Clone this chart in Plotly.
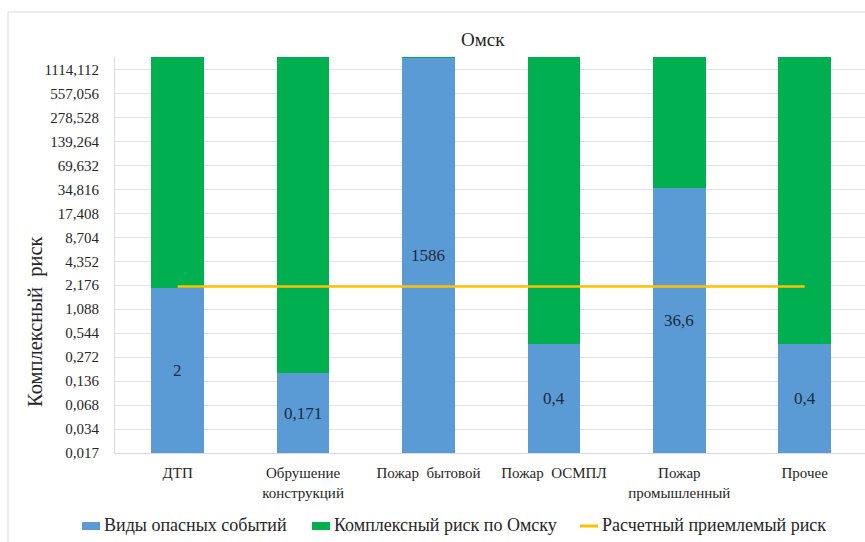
import math
import plotly.graph_objects as go

# Categories of hazardous events
categories = ["ДТП", "Обрушение<br>конструкций", "Пожар  бытовой",
              "Пожар  ОСМПЛ", "Пожар<br>промышленный", "Прочее"]
# Risk by event type
event_risk = [2, 0.171, 1586, 0.4, 36.6, 0.4]
# Total complex risk level for Omsk (stack top)
total_risk = 1600
complex_risk = [total_risk - v for v in event_risk]
# Calculated acceptable risk
acceptable_risk = [2.1] * len(categories)

# Log-scale ticks (base 2 steps)
tick_values = [0.017, 0.034, 0.068, 0.136, 0.272, 0.544, 1.088, 2.176, 4.352,
               8.704, 17.408, 34.816, 69.632, 139.264, 278.528, 557.056, 1114.112]
tick_labels = ["0,017", "0,034", "0,068", "0,136", "0,272", "0,544", "1,088",
               "2,176", "4,352", "8,704", "17,408", "34,816", "69,632",
               "139,264", "278,528", "557,056", "1114,112"]

legend_names = ["Виды опасных событий", "Комплексный риск по Омску",
                "Расчетный приемлемый риск"]

y_min = 0.017
FONT = "Liberation Serif"
BLUE = "#5B9BD5"
GREEN = "#00B050"
GOLD = "#FFC000"
TEXT = "#262626"

# plot-area geometry in pixels
L, R, T, B = 115, 865, 57, 453
PW, PH = R - L, B - T


def px_x(x):
    return (x - L) / PW


def px_y(y):
    return (B - y) / PH


fig = go.Figure()
fig.add_trace(go.Bar(x=categories, y=event_risk, name=legend_names[0],
                     marker=dict(color=BLUE, line=dict(width=0))))
fig.add_trace(go.Bar(x=categories, y=complex_risk, name=legend_names[1],
                     marker=dict(color=GREEN, line=dict(width=0))))
fig.add_trace(go.Scatter(x=categories, y=acceptable_risk, mode="lines",
                         name=legend_names[2],
                         line=dict(color=GOLD, width=2.5)))

# Value labels centred in the visible part of each blue bar
for cat, v in zip(categories, event_risk):
    top = min(v, total_risk)
    mid = math.sqrt(y_min * top)
    txt = ("%g" % v).replace(".", ",")
    fig.add_annotation(x=cat, y=math.log10(mid), text=txt, showarrow=False,
                       xanchor="center", yanchor="middle",
                       font=dict(family=FONT, size=17, color="#1b2a3e"))

# Axis title
fig.add_annotation(xref="paper", yref="paper", x=px_x(36), y=px_y(322),
                   xanchor="center", yanchor="middle",
                   text="Комплексный  риск", textangle=-90, showarrow=False,
                   font=dict(family=FONT, size=20.5, color=TEXT))

# Chart title
fig.add_annotation(xref="paper", yref="paper", x=px_x(483), y=px_y(39),
                   text="Омск", showarrow=False, xanchor="center", yanchor="middle",
                   font=dict(family=FONT, size=19, color=TEXT))

# Legend drawn along the bottom
legend_y = 526
legend_items = [(82, BLUE, "rect"), (312, GREEN, "rect"), (580, GOLD, "line")]
for (x0, color, kind), name in zip(legend_items, legend_names):
    if kind == "rect":
        fig.add_shape(type="rect", xref="paper", yref="paper",
                      x0=px_x(x0), x1=px_x(x0 + 18),
                      y0=px_y(legend_y + 4), y1=px_y(legend_y - 4),
                      fillcolor=color, line=dict(width=0))
    else:
        fig.add_shape(type="line", xref="paper", yref="paper",
                      x0=px_x(x0), x1=px_x(x0 + 18),
                      y0=px_y(legend_y), y1=px_y(legend_y),
                      line=dict(color=color, width=3))
    fig.add_annotation(xref="paper", yref="paper", x=px_x(x0 + 20),
                       y=px_y(legend_y - 1), text=name, showarrow=False,
                       xanchor="left", yanchor="middle",
                       font=dict(family=FONT, size=18, color=TEXT))

# Chart frame
fig.add_shape(type="rect", xref="paper", yref="paper",
              x0=px_x(8), x1=px_x(900), y0=px_y(600), y1=px_y(12),
              line=dict(color="#d9d9d9", width=1), layer="below")

fig.update_layout(
    barmode="stack",
    bargap=0.58,
    width=865, height=542,
    margin=dict(l=L, r=865 - R, t=T, b=542 - B, autoexpand=False),
    paper_bgcolor="white", plot_bgcolor="white",
    font=dict(family=FONT, color="#404040"),
    showlegend=False,
    xaxis=dict(range=[-0.5, 5.481], showgrid=False, showline=True,
               linecolor="#d9d9d9", linewidth=1, ticks="",
               ticklabelstandoff=6,
               tickfont=dict(family=FONT, size=15, color=TEXT)),
    yaxis=dict(type="log", range=[math.log10(y_min), math.log10(total_risk)],
               tickvals=tick_values, ticktext=tick_labels,
               showgrid=True, gridcolor="#e3e3e3", gridwidth=1,
               showline=True, linecolor="#d9d9d9", zeroline=False,
               ticks="", ticklabelstandoff=12,
               tickfont=dict(family=FONT, size=15, color=TEXT)),
)

fig.write_html("out.html")
